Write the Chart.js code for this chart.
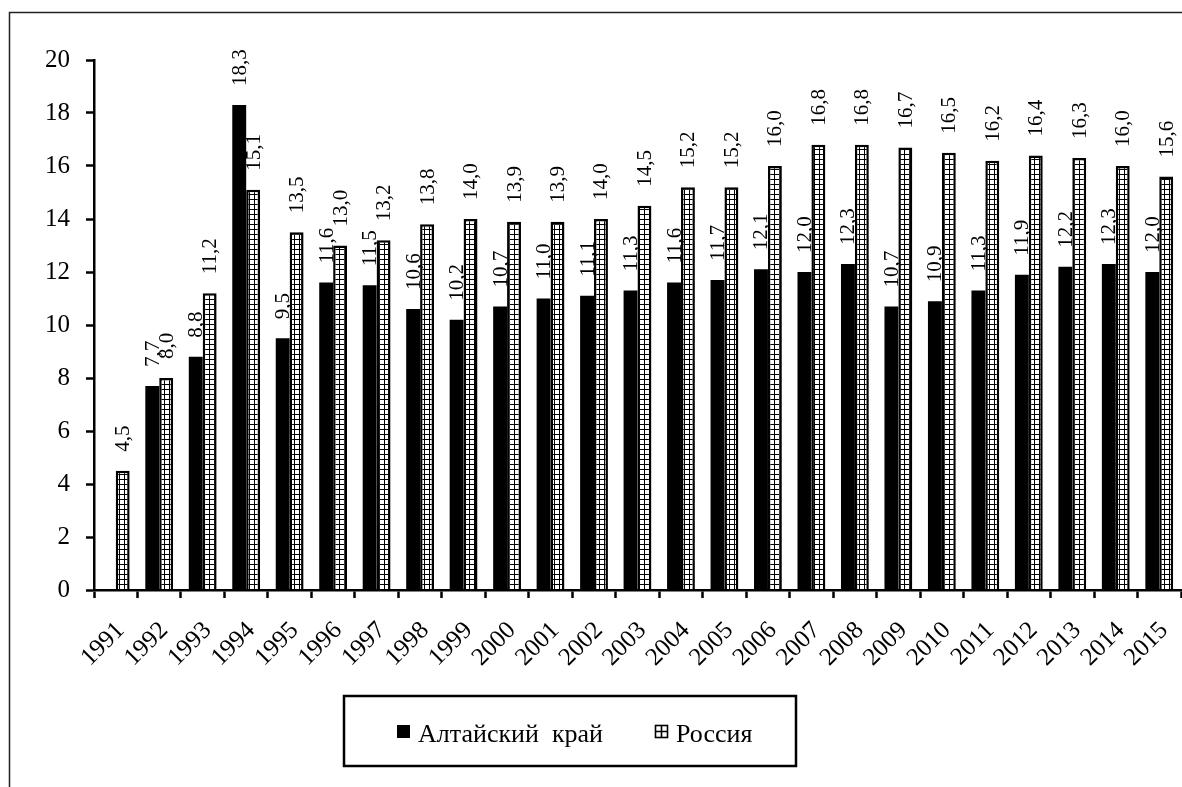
<!DOCTYPE html>
<html lang="ru">
<head>
<meta charset="utf-8">
<script src="https://cdn.jsdelivr.net/npm/chart.js@4.4.1/dist/chart.umd.min.js"></script>
<style>
    html, body { margin: 0; padding: 0; background: #fff; }
    #wrap { position: relative; width: 1182px; height: 787px; }
</style>
</head>
<body>
<div id="wrap"><canvas id="grafica"></canvas></div>
<script>
// ── DATOS ─────────────────────────────────────────────────────
const ANOS = ['1991', '1992', '1993', '1994', '1995', '1996', '1997', '1998', '1999', '2000',
    '2001', '2002', '2003', '2004', '2005', '2006', '2007', '2008', '2009', '2010',
    '2011', '2012', '2013', '2014', '2015'];
const ALTAI = [null, 7.7, 8.8, 18.3, 9.5, 11.6, 11.5, 10.6, 10.2, 10.7,
    11.0, 11.1, 11.3, 11.6, 11.7, 12.1, 12.0, 12.3, 10.7, 10.9,
    11.3, 11.9, 12.2, 12.3, 12.0];
const RUSIA = [4.5, 8.0, 11.2, 15.1, 13.5, 13.0, 13.2, 13.8, 14.0, 13.9,
    13.9, 14.0, 14.5, 15.2, 15.2, 16.0, 16.8, 16.8, 16.7, 16.5,
    16.2, 16.4, 16.3, 16.0, 15.6];
const SERIES = ['Алтайский  край', 'Россия'];
const EJE_Y_MIN = 0;
const EJE_Y_MAX = 20;
const EJE_Y_PASO = 2;

// ── CONFIG GLOBAL ─────────────────────────────────────────────
const FUENTE = "'Liberation Serif', 'Times New Roman', serif";
Chart.defaults.font.family = FUENTE;
Chart.defaults.color = '#000';
Chart.defaults.plugins.legend.display = false;
Chart.defaults.plugins.tooltip.enabled = false;

const formato = v => v.toFixed(1).replace('.', ',');

function patronRejilla(ctx) {
    const c = document.createElement('canvas');
    c.width = 5; c.height = 5;
    const g = c.getContext('2d');
    g.fillStyle = '#fff';
    g.fillRect(0, 0, 5, 5);
    g.fillStyle = '#000';
    g.fillRect(4, 0, 1, 5);
    g.fillRect(0, 4, 5, 1);
    return ctx.createPattern(c, 'repeat');
}

// etiquetas verticales encima de cada barra
const etiquetas = {
    id: 'etiquetas',
    afterDatasetsDraw(chart) {
        const ctx = chart.ctx;
        ctx.save();
        ctx.fillStyle = '#000';
        ctx.font = '21px ' + FUENTE;
        ctx.textAlign = 'left';
        ctx.textBaseline = 'middle';
        chart.data.datasets.forEach((ds, i) => {
            chart.getDatasetMeta(i).data.forEach((bar, j) => {
                const v = ds.data[j];
                if (v == null) return;
                ctx.save();
                ctx.translate(bar.x + 1, bar.y - 19);
                ctx.rotate(-Math.PI / 2);
                ctx.fillText(formato(v), 0, 0);
                ctx.restore();
            });
        });
        ctx.restore();
    }
};

// marco exterior + leyenda en recuadro
const marcoLeyenda = {
    id: 'marcoLeyenda',
    afterDraw(chart) {
        const ctx = chart.ctx;
        ctx.save();
        ctx.strokeStyle = '#222';
        ctx.lineWidth = 1.5;
        ctx.beginPath();
        ctx.moveTo(9.5, 787);
        ctx.lineTo(9.5, 12.5);
        ctx.lineTo(1182, 12.5);
        ctx.stroke();

        ctx.strokeStyle = '#000';
        ctx.lineWidth = 2.5;
        ctx.strokeRect(344, 696, 452, 70);

        ctx.font = '26px ' + FUENTE;
        ctx.textBaseline = 'alphabetic';
        ctx.textAlign = 'left';

        ctx.fillStyle = '#000';
        ctx.fillRect(397, 725, 13, 13);
        ctx.fillText(SERIES[0], 418, 742);

        ctx.fillStyle = '#fff';
        ctx.fillRect(655, 725, 13, 13);
        ctx.lineWidth = 1.6;
        ctx.strokeRect(655.5, 725.5, 12, 12);
        ctx.beginPath();
        ctx.moveTo(661.5, 725); ctx.lineTo(661.5, 738);
        ctx.moveTo(655, 731.5); ctx.lineTo(668, 731.5);
        ctx.stroke();
        ctx.fillStyle = '#000';
        ctx.fillText(SERIES[1], 676, 742);
        ctx.restore();
    }
};

// ── GRAFICA ───────────────────────────────────────────────────
const canvas = document.getElementById('grafica');
const ctx = canvas.getContext('2d');

new Chart(ctx, {
    type: 'bar',
    data: {
        labels: ANOS,
        datasets: [
            {
                label: SERIES[0],
                data: ALTAI,
                backgroundColor: '#000',
                borderWidth: 0,
                categoryPercentage: 0.64,
                barPercentage: 1.0,
            },
            {
                label: SERIES[1],
                data: RUSIA,
                backgroundColor: patronRejilla(ctx),
                borderColor: '#000',
                borderWidth: 2.5,
                categoryPercentage: 0.64,
                barPercentage: 1.0,
            },
        ],
    },
    options: {
        responsive: true,
        maintainAspectRatio: false,
        animation: false,
        layout: { padding: { top: 60, right: 1, left: 0, bottom: 0 } },
        scales: {
            x: {
                offset: true,
                grid: {
                    offset: true,
                    drawOnChartArea: false,
                    tickLength: 8,
                    tickWidth: 2.5,
                    tickColor: '#000',
                },
                border: { color: '#000', width: 2.5 },
                ticks: {
                    autoSkip: false,
                    minRotation: 45,
                    maxRotation: 45,
                    padding: 18,
                    labelOffset: 5,
                    font: { family: FUENTE, size: 25, weight: 'normal' },
                    color: '#000',
                },
                afterFit: s => {
                    s.height = 197;
                    s.paddingLeft = 0;
                    s.paddingRight = 0;
                },
            },
            y: {
                min: EJE_Y_MIN,
                max: EJE_Y_MAX,
                grid: {
                    drawOnChartArea: false,
                    tickLength: 8,
                    tickWidth: 2.5,
                    tickColor: '#000',
                },
                border: { color: '#000', width: 2.5 },
                ticks: {
                    stepSize: EJE_Y_PASO,
                    padding: 16,
                    font: { family: FUENTE, size: 25, weight: 'normal' },
                    color: '#000',
                },
                afterFit: s => { s.width = 94; },
            },
        },
    },
    plugins: [etiquetas, marcoLeyenda],
});
</script>
</body>
</html>
